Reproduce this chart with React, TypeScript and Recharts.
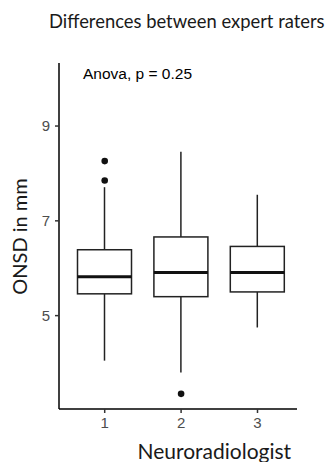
import React from 'react';
import { ComposedChart, Bar, Scatter, XAxis, YAxis } from 'recharts';

// ---- data ----
const categories = ['1', '2', '3'];
const lowerWhisker = [4.05, 3.8, 4.75];
const q1 = [5.46, 5.4, 5.5];
const median = [5.82, 5.91, 5.91];
const q3 = [6.39, 6.66, 6.46];
const upperWhisker = [7.71, 8.46, 7.55];
const outlierGroups = ['1', '1', '2'];
const outlierValues = [7.85, 8.26, 3.35];
const yTicks = [5, 7, 9];
const yDomain = [3.03, 10.33];

const boxData = categories.map((name, i) => ({
  name,
  lo: lowerWhisker[i],
  q1: q1[i],
  med: median[i],
  q3: q3[i],
  hi: upperWhisker[i],
}));
const outlierData = outlierValues.map((v, i) => ({ name: outlierGroups[i], value: v }));

const BoxShape = (props: any) => {
  const { x, y, width, height, payload } = props;
  if (height == null || !payload) return null;
  const ppu = height / (payload.q3 - payload.q1);
  const yOf = (v: number) => y + (payload.q3 - v) * ppu;
  const cx = x + width / 2;
  return (
    <g>
      <line x1={cx} x2={cx} y1={yOf(payload.hi)} y2={yOf(payload.q3)} stroke="#222" strokeWidth={1.5} />
      <line x1={cx} x2={cx} y1={yOf(payload.q1)} y2={yOf(payload.lo)} stroke="#222" strokeWidth={1.5} />
      <rect x={x} y={y} width={width} height={height} fill="#fff" stroke="#222" strokeWidth={1.5} />
      <line x1={x} x2={x + width} y1={yOf(payload.med)} y2={yOf(payload.med)} stroke="#111" strokeWidth={3} />
    </g>
  );
};

const Dot = (props: any) => {
  const { cx, cy } = props;
  if (cx == null || cy == null) return null;
  return <circle cx={cx} cy={cy} r={3.3} fill="#111" />;
};

const tickStyle = { fill: '#4d4d4d', fontSize: 15, fontFamily: 'Liberation Sans, Arial, sans-serif' };

export default function App() {
  return (
    <div style={{ position: 'absolute', left: 0, top: 0, width: 328, height: 462, background: '#fff' }}>
      <ComposedChart
        width={328}
        height={462}
        data={boxData}
        margin={{ top: 63, right: 31, bottom: 0, left: 0 }}
      >
        <XAxis
          dataKey="name"
          type="category"
          allowDuplicatedCategory={false}
          padding={{ left: 7.5, right: 1.3 }}
          height={53}
          tickSize={4}
          tickMargin={4}
          tick={tickStyle}
          axisLine={{ stroke: '#000', strokeWidth: 1.5 }}
          tickLine={{ stroke: '#333', strokeWidth: 1.5 }}
        />
        <YAxis
          type="number"
          domain={yDomain}
          allowDataOverflow
          ticks={yTicks}
          width={59}
          tickSize={4}
          tickMargin={5}
          tick={tickStyle}
          axisLine={{ stroke: '#000', strokeWidth: 1.5 }}
          tickLine={{ stroke: '#333', strokeWidth: 1.5 }}
        />
        <Bar
          dataKey={(d: any) => [d.q1, d.q3]}
          barSize={54}
          shape={<BoxShape />}
          isAnimationActive={false}
        />
        <Scatter data={outlierData} dataKey="value" shape={<Dot />} isAnimationActive={false} />
      </ComposedChart>
      <svg
        width={328}
        height={462}
        style={{ position: 'absolute', left: 0, top: 0, pointerEvents: 'none' }}
      >
        <text x={49} y={28} fontFamily="Lato, sans-serif" fontSize={18.4} fill="#1a1a1a">
          Differences between expert raters
        </text>
        <text x={83} y={79} fontFamily="Liberation Sans, Arial, sans-serif" fontSize={15.5} fill="#000">
          Anova, p = 0.25
        </text>
        <text x={137.5} y={459} fontFamily="Lato, sans-serif" fontSize={21} fill="#1a1a1a">
          Neuroradiologist
        </text>
        <text
          x={0}
          y={0}
          transform="translate(27,236.5) rotate(-90)"
          textAnchor="middle"
          fontFamily="Lato, sans-serif"
          fontSize={20}
          fill="#1a1a1a"
        >
          ONSD in mm
        </text>
      </svg>
    </div>
  );
}
